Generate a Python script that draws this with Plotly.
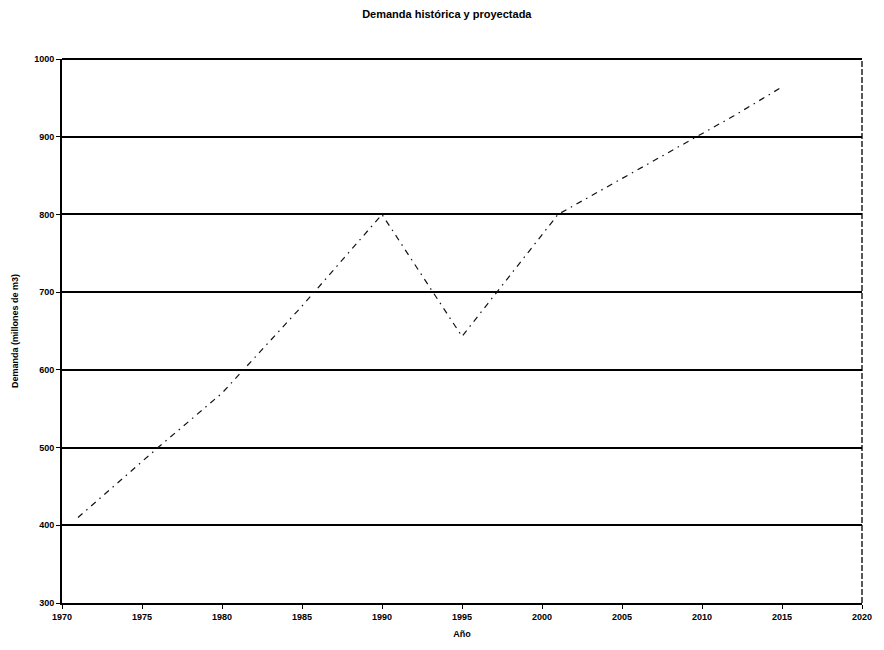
import plotly.graph_objects as go

# Demand series: historical (1971-2001) and projected (to 2015), millions of m3
years = [1971, 1976, 1980, 1985, 1990, 1995, 2001, 2005, 2008, 2010, 2012, 2015]
demand = [410, 500, 570, 682, 800, 643, 800, 846, 880, 904, 927, 964]

x_ticks = [1970, 1975, 1980, 1985, 1990, 1995, 2000, 2005, 2010, 2015, 2020]
y_ticks = [300, 400, 500, 600, 700, 800, 900, 1000]

FONT = "Liberation Sans"

fig = go.Figure()
fig.add_trace(go.Scatter(
    x=years, y=demand, mode="lines",
    line=dict(color="#111111", width=1.2, dash="6px,5px,1.5px,5px"),
    showlegend=False, hoverinfo="skip",
))

# frame: solid top edge, dashed right-hand edge
fig.add_shape(type="line", xref="paper", yref="paper", x0=0, x1=1, y0=1, y1=1,
              line=dict(color="black", width=2))
fig.add_shape(type="line", xref="paper", yref="paper", x0=1, x1=1, y0=0, y1=1,
              line=dict(color="black", width=1.3, dash="6px,2px"))

fig.update_layout(
    width=884, height=650,
    margin=dict(l=62, r=15, t=59, b=46),
    paper_bgcolor="white", plot_bgcolor="white",
    font=dict(family=FONT, color="black", size=9),
    title=dict(text="<b>Demanda histórica y proyectada</b>", x=0.481, xref="paper",
               xanchor="center", y=1 - 14 / 650, yanchor="middle",
               font=dict(family=FONT, size=11, color="black")),
    xaxis=dict(
        range=[1970, 2020], tickvals=x_ticks,
        ticktext=[f"<b>{v}</b>" for v in x_ticks],
        ticklabeloverflow="allow",
        showgrid=False, zeroline=False,
        showline=True, linecolor="black", linewidth=2,
        ticks="outside", ticklen=4, tickcolor="black", tickwidth=1,
        title=dict(text="<b>Año</b>", font=dict(family=FONT, size=9), standoff=10),
    ),
    yaxis=dict(
        range=[300, 1000], tickvals=y_ticks,
        ticktext=[f"<b>{v}</b>" for v in y_ticks],
        showgrid=True, gridcolor="black", gridwidth=2, zeroline=False,
        showline=True, linecolor="black", linewidth=2,
        ticks="outside", ticklen=4, tickcolor="black", tickwidth=1,
        title=dict(text="<b>Demanda (millones de m3)</b>", font=dict(family=FONT, size=9), standoff=14),
    ),
)

fig.write_html("out.html")
